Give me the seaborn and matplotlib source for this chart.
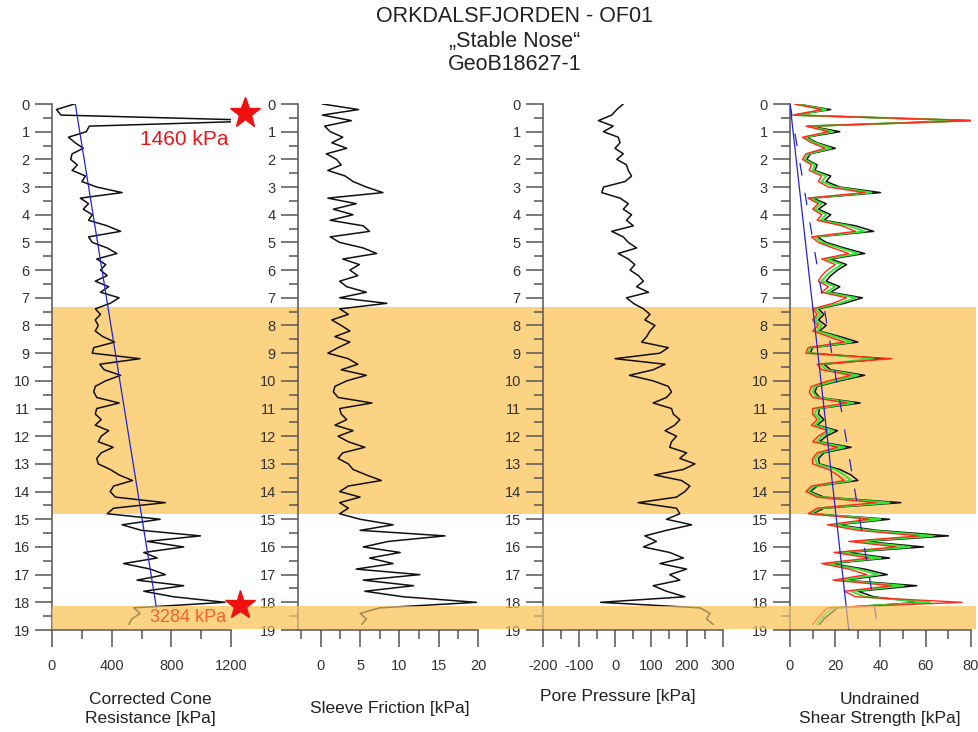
import numpy as np
import pandas as pd
import matplotlib
matplotlib.use("Agg")
import matplotlib.pyplot as plt
import seaborn as sns
from matplotlib.patches import Rectangle
from matplotlib.lines import Line2D
import matplotlib.transforms as mtransforms
from matplotlib.ticker import MultipleLocator

sns.set_theme(style="white")
plt.rcParams["font.family"] = ["Liberation Sans", "DejaVu Sans"]
plt.rcParams["axes.unicode_minus"] = False

# ---------------- data (depth in m, 0.2 m step) ----------------
depth = np.round(np.arange(0, 18.81, 0.2), 1)

cone_resistance = [
    150, 30, 60, 1460, 250, 230, 110, 155, 210, 135,
    125, 170, 135, 225, 200, 300, 470, 190, 245, 210,
    270, 245, 370, 460, 245, 270, 370, 435, 300, 360,
    325, 370, 290, 380, 325, 450, 390, 290, 325, 290,
    310, 290, 340, 420, 280, 270, 590, 320, 350, 460,
    360, 290, 280, 300, 450, 300, 290, 330, 290, 380,
    330, 310, 410, 330, 300, 310, 390, 450, 540, 413,
    390, 425, 760, 413, 370, 725, 470, 600, 995, 637,
    883, 615, 705, 480, 660, 760, 570, 883, 615, 815,
    1160, 548, 590, 535, 515,
]
sleeve_friction = [
    0.2, 4.8, 0.2, 3.9, 0.5, 1.2, 2.8, 1.4, 3.3, 0.7,
    2.0, 2.6, 0.9, 3.1, 4.1, 5.8, 7.9, 0.9, 4.5, 1.6,
    4.1, 1.2, 5.4, 6.2, 1.2, 2.4, 5.4, 7.1, 2.8, 4.9,
    3.7, 4.7, 2.4, 3.3, 5.8, 2.4, 8.4, 2.4, 3.5, 1.4,
    2.6, 3.7, 1.8, 3.7, 2.2, 0.9, 3.5, 4.7, 2.6, 5.8,
    3.3, 1.8, 1.6, 2.2, 6.5, 2.4, 2.6, 3.3, 1.8, 4.1,
    2.2, 3.5, 5.6, 2.8, 2.2, 3.5, 4.1, 5.8, 7.7, 3.5,
    2.4, 5.0, 2.4, 3.5, 2.4, 5.0, 9.2, 5.0, 15.8, 8.6,
    5.4, 10.1, 6.2, 9.2, 4.5, 12.6, 5.4, 11.8, 5.6, 10.5,
    19.8, 7.5, 5.0, 5.8, 5.2,
]
pore_pressure = [
    23, 5, -9, -46, -5, -32, 9, 14, 0, 23,
    5, 32, 37, 46, 28, -32, -37, 14, 37, 23,
    46, 32, 51, -9, 23, 37, 60, 9, 37, 55,
    42, 65, 79, 60, 93, 32, 51, 79, 97, 83,
    111, 97, 88, 74, 148, 125, 0, 139, 106, 40,
    106, 148, 157, 143, 106, 157, 162, 180, 166, 139,
    171, 157, 152, 199, 180, 222, 190, 110, 185, 208,
    194, 171, 64, 171, 180, 143, 213, 143, 83, 115,
    79, 152, 190, 125, 199, 152, 180, 106, 143, 194,
    -40, 236, 264, 254, 273,
]
su_black = [
    3, 18, 2, 78, 9, 22, 7.4, 12, 20, 9,
    7.4, 12, 11, 18, 16, 22, 40, 10, 16, 12.6,
    18, 15, 29, 37, 12, 16, 24, 33, 18, 25,
    21, 18, 16, 22, 18, 32, 24, 12.6, 15, 12.6,
    16, 13, 22, 30, 10, 9, 41.5, 15, 18, 33,
    22, 12, 11, 13, 31, 13, 12.6, 15, 12, 21,
    16, 13, 27, 15, 12.6, 13, 22, 27, 30, 12,
    9, 15, 49, 15, 10, 44, 21, 38.5, 70, 33,
    59, 25, 44, 18, 33, 43, 24, 56, 30, 37,
    58, 21, 18, 15, 13,
]
su_green = [
    2.5, 16, 2, 80, 8, 19, 6.5, 11, 18, 8,
    6.5, 11, 10, 16, 14, 20, 36, 9, 14, 11,
    16, 13.5, 26, 33, 11, 14, 22, 30, 16, 23,
    19, 16, 14, 20, 16, 29, 22, 11, 13.5, 11,
    14, 12, 20, 27, 9, 8, 37, 13.5, 16, 30,
    20, 11, 10, 12, 28, 12, 11, 13.5, 11, 19,
    14, 12, 24, 13.5, 11, 12, 20, 24, 27, 11,
    8, 13.5, 44, 13.5, 9, 40, 19, 35, 63, 30,
    53, 22, 40, 16, 30, 39, 22, 50, 27, 33,
    62, 19, 16, 13.5, 12,
]
su_red = [
    2, 14, 1.5, 82, 7, 17, 5.5, 9.5, 15.5, 7,
    5.5, 9.5, 8.5, 14, 12.5, 17, 33, 8, 12.5, 10,
    14, 12, 23, 29, 9.5, 12.5, 19, 26, 14, 20,
    16.5, 14, 12.5, 17, 14, 25, 19, 10, 12, 10,
    12.5, 10, 17, 24, 8, 7, 45, 12, 14, 27,
    17, 9.5, 8.5, 10, 25, 10, 10, 12, 9.5, 16.5,
    12.5, 10, 21, 12, 10, 10, 17, 21, 24, 9.5,
    7, 12, 38, 12, 8, 35, 16.5, 30, 57, 26,
    47, 19.5, 35, 14, 26, 34, 19, 45, 24, 29,
    76, 16.5, 14, 12, 10,
]

qc_trend_depth = [0.0, 18.2]
qc_trend = [156, 700]
su_trend_depth = [0.0, 19.0]
su_trend = [0, 26]
su_trend2 = [0, 39]

band_upper = (7.35, 14.82)
band_lower = (18.12, 18.97)

title_lines = ["ORKDALSFJORDEN - OF01", "\u201EStable Nose\u201C", "GeoB18627-1"]
xlabels = ["Corrected Cone\nResistance [kPa]", "Sleeve Friction [kPa]",
           "Pore Pressure [kPa]", "Undrained\nShear Strength [kPa]"]

df = pd.DataFrame({"depth": depth, "qc": cone_resistance, "fs": sleeve_friction,
                   "u2": pore_pressure, "su_k": su_black, "su_g": su_green,
                   "su_r": su_red})

# ---------------- layout ----------------
W, H = 979, 732
fig = plt.figure(figsize=(W / 100, H / 100), dpi=100)
TOP, BOT = 104, 630

def add_panel(l, r):
    ax = fig.add_axes([l / W, 1 - BOT / H, (r - l) / W, (BOT - TOP) / H])
    ax.set_facecolor("none")
    return ax

panels = [
    (52, 231, (0, 1200), 400, 200),
    (298, 478, (-2.9, 20), 5, 2.5),
    (543, 723, (-200, 300), 100, 50),
    (790, 971, (0, 80), 20, 10),
]
axes = []
for l, r, xl, maj, mnr in panels:
    ax = add_panel(l, r)
    ax.set_xlim(*xl)
    ax.set_ylim(19, 0)
    ax.xaxis.set_major_locator(MultipleLocator(maj))
    ax.xaxis.set_minor_locator(MultipleLocator(mnr))
    ax.yaxis.set_major_locator(MultipleLocator(1))
    ax.yaxis.set_minor_locator(MultipleLocator(0.5))
    for s in ["top", "right"]:
        ax.spines[s].set_visible(False)
    for s in ["left", "bottom"]:
        ax.spines[s].set_color("#555555")
        ax.spines[s].set_linewidth(1.1)
    ax.tick_params(which="both", bottom=True, left=True, top=False, right=False)
    ax.tick_params(which="major", length=12, width=1.1, color="#555555",
                   labelsize=10.5, labelcolor="#333333", direction="out")
    ax.tick_params(which="minor", length=6.5, width=1.1, color="#555555",
                   direction="out")
    ax.tick_params(axis="x", which="major", pad=9)
    ax.tick_params(axis="y", which="major", pad=4)
    axes.append(ax)

ax1, ax2, ax3, ax4 = axes
BLACK = "#111111"
BLUE = "#2424d0"

# qc
ax1.plot(qc_trend, qc_trend_depth, color=BLUE, lw=0.9, zorder=3)
sns.lineplot(data=df, x="qc", y="depth", sort=False, estimator=None, orient="y",
             color=BLACK, lw=1.1, ax=ax1)
# fs
sns.lineplot(data=df, x="fs", y="depth", sort=False, estimator=None, orient="y",
             color=BLACK, lw=1.1, ax=ax2)
# u2
sns.lineplot(data=df, x="u2", y="depth", sort=False, estimator=None, orient="y",
             color=BLACK, lw=1.1, ax=ax3)
# su
sns.lineplot(data=df, x="su_k", y="depth", sort=False, estimator=None, orient="y",
             color=BLACK, lw=1.1, ax=ax4)
sns.lineplot(data=df, x="su_g", y="depth", sort=False, estimator=None, orient="y",
             color="#33e633", lw=1.4, ax=ax4)
sns.lineplot(data=df, x="su_r", y="depth", sort=False, estimator=None, orient="y",
             color="#ff2a1a", lw=1.0, ax=ax4)
ax4.plot(su_trend, su_trend_depth, color=BLUE, lw=0.9, zorder=3)
ax4.plot(su_trend2, su_trend_depth, color=BLUE, lw=0.9, zorder=3,
         dashes=(10, 14))

for ax in axes:
    ax.set_xlabel("")
    ax.set_ylabel("")

# bands
ORANGE = "#FCD283"
blend = mtransforms.blended_transform_factory(fig.transFigure, ax1.transData)
bx0, bx1 = 52 / W, 976 / W
for (d0, d1) in [band_upper, band_lower]:
    fig.add_artist(Rectangle((bx0, d0), bx1 - bx0, d1 - d0, transform=blend,
                             facecolor=ORANGE, edgecolor="none", zorder=-1))
fig.add_artist(Rectangle((bx0, band_lower[0]), bx1 - bx0,
                         band_lower[1] - band_lower[0], transform=blend,
                         facecolor=ORANGE, edgecolor="none", alpha=0.62, zorder=5))

# annotations
fig.add_artist(Line2D([1293], [0.33], transform=ax1.transData, marker="*", ms=23,
                      color="#ee1111", ls="none", zorder=7))
fig.add_artist(Line2D([1262], [18.1], transform=ax1.transData, marker="*", ms=22,
                      color="#ee1111", ls="none", zorder=7))
fig.text(885, 1.3, "1460 kPa", transform=ax1.transData, ha="center", va="center",
         fontsize=15, color="#e8141c", zorder=7)
fig.text(911, 18.56, "3284 kPa", transform=ax1.transData, ha="center", va="center",
         fontsize=13, color="#f0642a", zorder=7)

# titles
for t, y in zip(title_lines, [17, 41, 64]):
    fig.text(515 / W, 1 - y / H, t, ha="center", va="center", fontsize=15.5,
             color="#222222")

# axis labels
label_pos = [(150, 709), (390, 709), (618, 697), (880, 709)]
for txt, (x, y) in zip(xlabels, label_pos):
    fig.text(x / W, 1 - y / H, txt, ha="center", va="center", fontsize=12.5,
             color="#222222", linespacing=1.35)

fig.savefig("out.png", dpi=100)
